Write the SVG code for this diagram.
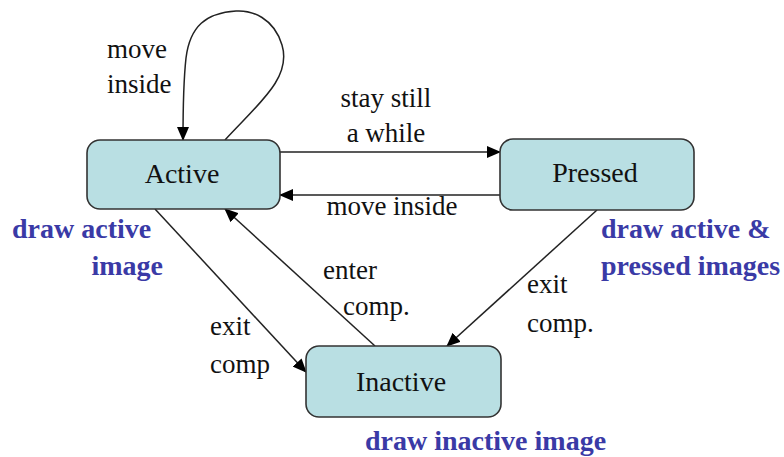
<svg xmlns="http://www.w3.org/2000/svg" width="784" height="457" viewBox="0 0 784 457">
  <defs>
    <marker id="arrow" markerUnits="userSpaceOnUse" markerWidth="14" markerHeight="12" refX="13" refY="6" orient="auto">
      <path d="M0,0 L14,6 L0,12 Z" fill="#000"/>
    </marker>
    <style>
      .state { fill: #b9dfe3; stroke: #333; stroke-width: 1.6; }
      .edge { fill: none; stroke: #222; stroke-width: 1.5; marker-end: url(#arrow); }
    </style>
  </defs>
  <rect width="784" height="457" fill="#fff"/>

  <!-- transitions -->
  <g id="connectors">
    <path class="edge" d="M225,140 C258,104 292,78 282,45 C274,18 252,10 236,11 C206,13 190,26 186,58 C183,85 183,112 183,140"/>
    <line class="edge" x1="280" y1="152" x2="500" y2="152"/>
    <line class="edge" x1="500" y1="195" x2="280" y2="195"/>
    <line class="edge" x1="155" y1="209" x2="306" y2="372"/>
    <line class="edge" x1="375" y1="346" x2="225" y2="209"/>
    <line class="edge" x1="597" y1="210" x2="447" y2="346"/>
  </g>

  <!-- transition labels -->
  <g id="edge-labels">
    <text style="font-family:'Liberation Serif',serif;font-size:27px;fill:#111" x="107" y="58">move</text>
    <text style="font-family:'Liberation Serif',serif;font-size:27px;fill:#111" x="107" y="93">inside</text>
    <text style="font-family:'Liberation Serif',serif;font-size:27px;fill:#111;text-anchor:middle" x="386" y="107">stay still</text>
    <text style="font-family:'Liberation Serif',serif;font-size:27px;fill:#111;text-anchor:middle" x="386" y="142">a while</text>
    <text style="font-family:'Liberation Serif',serif;font-size:27px;fill:#111;text-anchor:middle" x="392" y="215">move inside</text>
    <text style="font-family:'Liberation Serif',serif;font-size:27px;fill:#111" x="210" y="335">exit</text>
    <text style="font-family:'Liberation Serif',serif;font-size:27px;fill:#111" x="210" y="373">comp</text>
    <text style="font-family:'Liberation Serif',serif;font-size:27px;fill:#111" x="323" y="279">enter</text>
    <text style="font-family:'Liberation Serif',serif;font-size:27px;fill:#111" x="343" y="315">comp.</text>
    <text style="font-family:'Liberation Serif',serif;font-size:27px;fill:#111" x="527" y="293">exit</text>
    <text style="font-family:'Liberation Serif',serif;font-size:27px;fill:#111" x="527" y="332">comp.</text>
  </g>

  <!-- states -->
  <g id="active">
    <rect class="state" x="87" y="140" width="193" height="69" rx="13"/>
    <text style="font-family:'Liberation Serif',serif;font-size:28px;fill:#111;text-anchor:middle" x="182" y="183">Active</text>
  </g>
  <g id="pressed">
    <rect class="state" x="500" y="139" width="194" height="71" rx="13"/>
    <text style="font-family:'Liberation Serif',serif;font-size:28px;fill:#111;text-anchor:middle" x="595" y="182">Pressed</text>
  </g>
  <g id="inactive">
    <rect class="state" x="306" y="346" width="195" height="71" rx="13"/>
    <text style="font-family:'Liberation Serif',serif;font-size:28px;fill:#111;text-anchor:middle" x="401" y="391">Inactive</text>
  </g>

  <!-- state actions -->
  <g id="actions">
    <text style="font-family:'Liberation Serif',serif;font-size:28px;font-weight:bold;fill:#3a3aa6" x="12" y="238">draw active</text>
    <text style="font-family:'Liberation Serif',serif;font-size:28px;font-weight:bold;fill:#3a3aa6;text-anchor:end" x="163" y="275">image</text>
    <text style="font-family:'Liberation Serif',serif;font-size:28px;font-weight:bold;fill:#3a3aa6" x="601" y="238">draw active &amp;</text>
    <text style="font-family:'Liberation Serif',serif;font-size:28px;font-weight:bold;fill:#3a3aa6" x="601" y="275">pressed images</text>
    <text style="font-family:'Liberation Serif',serif;font-size:28px;font-weight:bold;fill:#3a3aa6" x="365" y="450">draw inactive image</text>
  </g>
</svg>
